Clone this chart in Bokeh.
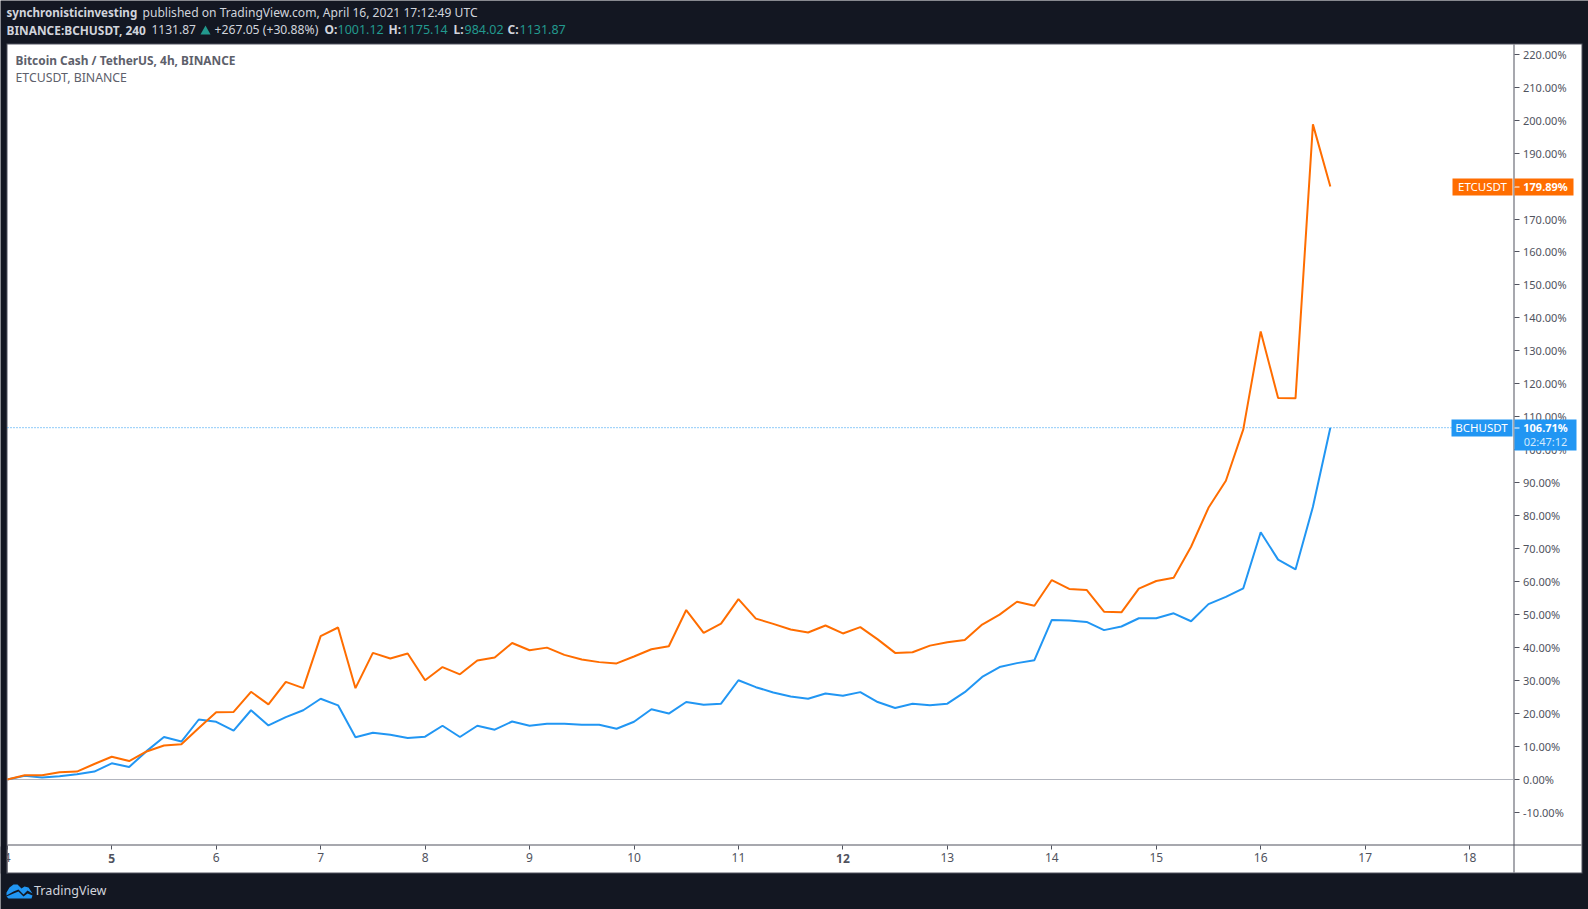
from bokeh.plotting import figure
from bokeh.models import (Range1d, FixedTicker, PrintfTickFormatter, BoxAnnotation,
                          Label, PolyAnnotation)
from bokeh.embed import file_html
from bokeh.resources import INLINE

etc = [0, 1.3, 1.3, 2.2, 2.4, 4.7, 6.9, 5.6, 8.5, 10.3, 10.7, 15.6, 20.4, 20.5, 26.6, 22.8,
       29.6, 27.7, 43.5, 46.1, 27.7, 38.4, 36.7, 38.2, 30.1, 34.1, 31.9, 36.1, 37.0, 41.4,
       39.2, 40.0, 37.8, 36.4, 35.6, 35.2, 37.3, 39.5, 40.4, 51.4, 44.5, 47.3, 54.7, 48.8,
       47.2, 45.5, 44.6, 46.7, 44.3, 46.2, 42.5, 38.4, 38.6, 40.6, 41.6, 42.3, 47.0, 50.0,
       53.9, 52.7, 60.5, 57.8, 57.5, 50.9, 50.7, 57.9, 60.2, 61.2, 70.6, 82.4, 90.6, 106.2,
       135.9, 115.7, 115.6, 198.7, 179.89]
bch = [0, 1.1, 0.6, 1.0, 1.6, 2.4, 4.9, 3.8, 8.6, 12.9, 11.5, 18.2, 17.5, 14.8, 21.0, 16.4,
       18.9, 21.0, 24.5, 22.5, 12.8, 14.2, 13.6, 12.6, 13.0, 16.3, 12.9, 16.3, 15.1, 17.6,
       16.3, 16.9, 16.9, 16.6, 16.6, 15.4, 17.5, 21.3, 20.0, 23.5, 22.7, 23.0, 30.1, 28.0,
       26.4, 25.2, 24.5, 26.1, 25.4, 26.5, 23.5, 21.7, 23.0, 22.5, 23.0, 26.5, 31.1, 34.1,
       35.3, 36.2, 48.4, 48.2, 47.8, 45.3, 46.4, 48.9, 48.9, 50.4, 48.0, 53.2, 55.4, 58.0,
       75.0, 66.7, 63.7, 82.7, 106.71]
hours_per_bar = 4
first_day = 4
y_ticks = list(range(-10, 221, 10))
day_ticks = list(range(4, 19))
bold_days = [5, 12]

DARK = "#131722"
ORANGE = "#ff6d00"
BLUE = "#2196f3"
GREY = "#50535e"
TEXT = "#d1d4dc"
TEAL = "#22998e"
FONT = "Noto Sans"

W, H = 1588, 909
DAY_PX = 104.45      # px per day
X0_PX = 6.8          # px of first day
ZERO_PX = 779.0      # px of 0%
PCT_PX = 3.297       # px per 1%
AXIS_X_PX = 1513.5
AXIS_Y_PX = 844.5


def px_to_day(x):
    return first_day + (x - X0_PX) / DAY_PX


def px_to_pct(y):
    return (ZERO_PX - y) / PCT_PX


days = [first_day + i * hours_per_bar / 24 for i in range(len(etc))]

p = figure(width=W, height=H, output_backend="svg", toolbar_location=None,
           x_range=Range1d(px_to_day(0), px_to_day(W)),
           y_range=Range1d(px_to_pct(H), px_to_pct(0)), y_axis_location="right",
           min_border_left=0, min_border_right=0, min_border_top=0, min_border_bottom=0,
           border_fill_color=DARK, background_fill_color=DARK, outline_line_color=None)
p.grid.visible = False


def box(l, t, r, b, color, level="annotation"):
    p.add_layout(BoxAnnotation(left=l, right=r, top=t, bottom=b,
                               left_units="canvas", right_units="canvas", top_units="canvas",
                               bottom_units="canvas", fill_color=color, fill_alpha=1,
                               line_color=None, level=level, editable=False))


def txt(x, y, s, color=TEXT, size=12, bold=False, align="left", xunits="canvas"):
    p.add_layout(Label(x=x, y=y, text=s, x_units=xunits, y_units="canvas", text_color=color,
                       text_font=FONT, text_font_size=f"{size}px",
                       text_font_style="bold" if bold else "normal",
                       text_align=align, text_baseline="middle"))


def poly(pts, color):
    p.add_layout(PolyAnnotation(xs=[a for a, _ in pts], ys=[b for _, b in pts],
                                xs_units="canvas", ys_units="canvas", fill_color=color,
                                fill_alpha=1, line_color=None, editable=False))


# white chart card, with axes strips and hairlines
box(6, 43, 1582, 873, GREY, "underlay")
box(7, 44, 1581, 872, "white", "underlay")
box(1513, 44, 1514, 872, GREY, "underlay")
box(7, 844, 1581, 845, GREY, "underlay")

p.xaxis.fixed_location = px_to_pct(AXIS_Y_PX)
p.xaxis.ticker = FixedTicker(ticks=day_ticks)
p.xaxis.major_label_overrides = {d: "" for d in bold_days}
p.xaxis.major_tick_out = 4
p.xaxis.major_tick_in = 0
p.xaxis.minor_tick_out = 0
p.xaxis.minor_tick_in = 0
p.xaxis.major_tick_line_color = GREY
p.xaxis.axis_line_color = None
p.xaxis.major_label_standoff = 4
p.xaxis.major_label_text_color = GREY
p.xaxis.major_label_text_font = FONT
p.xaxis.major_label_text_font_size = "12px"

p.yaxis.fixed_location = px_to_day(AXIS_X_PX)
p.yaxis.ticker = FixedTicker(ticks=y_ticks)
p.yaxis.formatter = PrintfTickFormatter(format="%.2f%%")
p.yaxis.major_tick_out = 5
p.yaxis.major_tick_in = 0
p.yaxis.minor_tick_out = 0
p.yaxis.minor_tick_in = 0
p.yaxis.major_tick_line_color = GREY
p.yaxis.axis_line_color = None
p.yaxis.major_label_standoff = 4
p.yaxis.major_label_text_color = GREY
p.yaxis.major_label_text_font = FONT
p.yaxis.major_label_text_font_size = "11px"
p.yaxis.major_label_text_baseline = "middle"

plot_left = px_to_day(7)
plot_right = px_to_day(1513)
p.line([plot_left, plot_right], [0, 0], line_color="#b2b5be", line_width=1)
p.line([plot_left, plot_right], [bch[-1], bch[-1]], line_color=BLUE, line_width=1, line_dash="1 2")

p.line(days, bch, line_color=BLUE, line_width=2)
p.line(days, etc, line_color=ORANGE, line_width=2)

for d in bold_days:
    txt(d, 857.5, str(d), color=GREY, bold=True, align="center", xunits="data")

# mask the left half of the first day label, as the reference's edge does
box(0, 846, 6, 873, DARK)
box(6, 846, 7, 873, GREY)

# value tags
box(1452, 178, 1512, 195, ORANGE)
box(1514, 178, 1573, 195, ORANGE)
box(1514, 186, 1519, 187, "white")
box(1451, 419, 1512, 436, BLUE)
box(1514, 419, 1576, 450, BLUE)
box(1514, 427, 1519, 428, "white")
txt(1482, 186, "ETCUSDT", "white", 11.5, False, "center")
txt(1545, 186, "179.89%", "white", 11, True, "center")
txt(1481, 427, "BCHUSDT", "white", 11.5, False, "center")
txt(1545, 427, "106.71%", "white", 11, True, "center")
txt(1545, 441, "02:47:12", "#d3eafc", 11, False, "center")

# header
txt(6, 11.5, "synchronisticinvesting", TEXT, 11.6, True)
txt(142, 11.5, "published on TradingView.com, April 16, 2021 17:12:49 UTC", TEXT, 12.1)
txt(6, 29, "BINANCE:BCHUSDT, 240", TEXT, 11.9, True)
txt(151, 29, "1131.87", TEXT, 12)
poly([(200, 34), (210, 34), (205, 25)], TEAL)
txt(214, 29, "+267.05 (+30.88%)", TEXT, 12.2)
for lx, name, vx, val in [(324, "O:", 337, "1001.12"), (388, "H:", 401, "1175.14"),
                          (453, "L:", 464, "984.02"), (507, "C:", 519, "1131.87")]:
    txt(lx, 29, name, TEXT, 12, True)
    txt(vx, 29, val, TEAL, 12.5)

txt(15, 59.5, "Bitcoin Cash / TetherUS, 4h, BINANCE", "#5d606b", 11.9, True)
txt(15, 77, "ETCUSDT, BINANCE", "#5d606b", 12.3)

# footer logo
poly([(6, 892), (9, 887), (13, 884), (17, 884), (21, 888), (24, 886), (28, 887), (32, 893),
      (27, 890), (23, 894), (18, 889), (13, 891), (6, 895)], BLUE)
poly([(6, 896), (13, 893), (18, 891), (23, 896), (27, 893), (32, 895), (31, 898), (8, 898)], BLUE)
txt(33.5, 890, "TradingView", TEXT, 12.6)

open("out.html", "w").write(file_html(p, INLINE))
